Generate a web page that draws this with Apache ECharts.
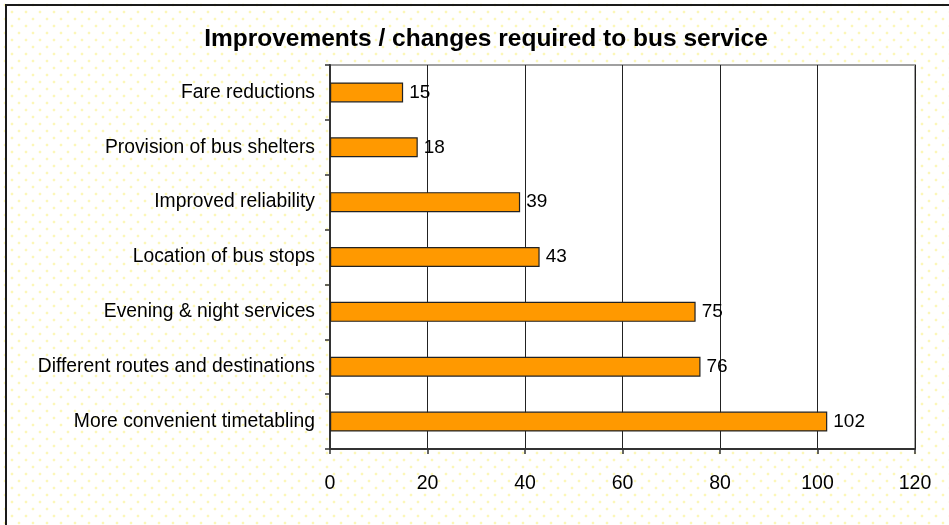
<!DOCTYPE html>
<html>
<head>
<meta charset="utf-8">
<script src="https://cdn.jsdelivr.net/npm/echarts@6/dist/echarts.min.js"></script>
<style>
  html, body { margin: 0; padding: 0; }
  #chart {
    width: 949px;
    height: 525px;
    background-color: #fff;
    background-image:
      radial-gradient(circle, #fcf7b8 1.1px, transparent 1.7px),
      radial-gradient(circle, #fcf7b8 1.1px, transparent 1.7px);
    background-size: 14px 14px, 14px 14px;
    background-position: 5px 5px, 12px 12px;
  }
</style>
</head>
<body>
<div id="chart"></div>
<script>
// categories, top to bottom as shown
const categories = [
  'Fare reductions',
  'Provision of bus shelters',
  'Improved reliability',
  'Location of bus stops',
  'Evening & night services',
  'Different routes and destinations',
  'More convenient timetabling'
];
const counts = [15, 18, 39, 43, 75, 76, 102];
const xTicks = [0, 20, 40, 60, 80, 100, 120];

const chart = echarts.init(document.getElementById('chart'));

const font = 'Liberation Sans, Arial, sans-serif';

chart.setOption({
  animation: false,
  title: {
    text: 'Improvements / changes required to bus service',
    left: 481,
    textAlign: 'center',
    top: 22,
    textStyle: { fontFamily: font, fontSize: 24.5, fontWeight: 'bold', color: '#000' }
  },
  grid: {
    left: 330, right: 34, top: 65, bottom: 76,
    show: true,
    backgroundColor: '#fff',
    borderColor: '#a0a0a0',
    borderWidth: 2
  },
  xAxis: {
    type: 'value',
    min: xTicks[0],
    max: xTicks[xTicks.length - 1],
    interval: 20,
    axisLine: { show: true, lineStyle: { color: '#333', width: 2 } },
    axisTick: { show: true, length: 5, lineStyle: { color: '#333', width: 1.5 } },
    axisLabel: { margin: 25, fontFamily: font, fontSize: 19.5, color: '#000' },
    splitLine: { show: true, lineStyle: { color: '#222', width: 1 } }
  },
  yAxis: {
    type: 'category',
    data: categories,
    inverse: true,
    axisLine: { show: true, lineStyle: { color: '#333', width: 2 } },
    axisTick: { show: true, length: 5, lineStyle: { color: '#333', width: 1.5 } },
    axisLabel: { margin: 15, fontFamily: font, fontSize: 19.3, color: '#000' },
    splitLine: { show: false }
  },
  series: [{
    type: 'bar',
    data: counts,
    barWidth: 20,
    itemStyle: { color: '#ff9900', borderColor: '#222', borderWidth: 1.2 },
    label: {
      show: true,
      position: 'right',
      distance: 6,
      fontFamily: font,
      fontSize: 19,
      color: '#000'
    }
  }],
  graphic: [{
    type: 'rect',
    shape: { x: 6, y: 5, width: 1200, height: 800 },
    style: { fill: 'none', stroke: '#1a1a1a', lineWidth: 2 },
    silent: true
  }]
});
</script>
</body>
</html>
